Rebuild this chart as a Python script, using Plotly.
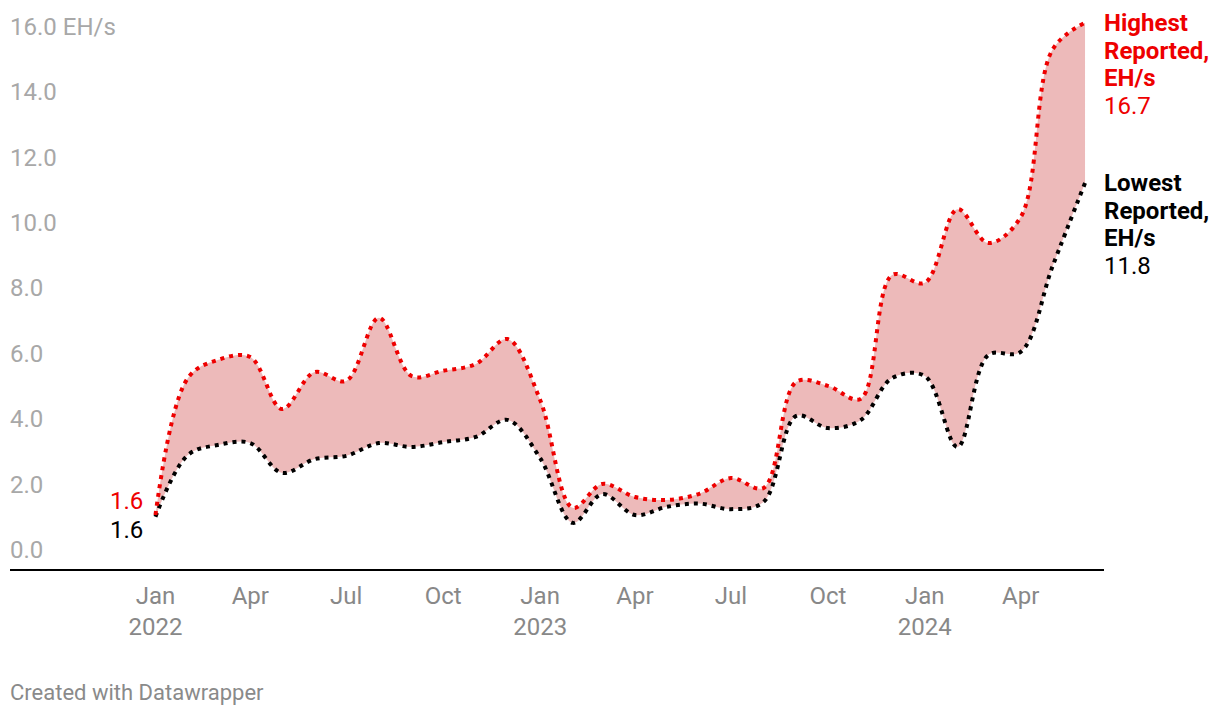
import plotly.graph_objects as go

dates = [
    "2022-01-01", "2022-02-01", "2022-03-01", "2022-04-01", "2022-05-01", "2022-06-01",
    "2022-07-01", "2022-08-01", "2022-09-01", "2022-10-01", "2022-11-01", "2022-12-01",
    "2023-01-01", "2023-02-01", "2023-03-01", "2023-04-01", "2023-05-01", "2023-06-01",
    "2023-07-01", "2023-08-01", "2023-09-01", "2023-10-01", "2023-11-01", "2023-12-01",
    "2024-01-01", "2024-02-01", "2024-03-01", "2024-04-01", "2024-05-01", "2024-06-01",
]
highest = [1.65, 5.85, 6.39, 6.48, 4.89, 6.02, 5.75, 7.68, 5.9, 6.06, 6.27, 7.03,
           5.17, 1.87, 2.6, 2.2, 2.11, 2.3, 2.78, 2.48, 5.72, 5.6, 5.2, 8.99,
           8.75, 11.0, 9.97, 10.76, 15.87, 16.7]
lowest = [1.6, 3.49, 3.79, 3.85, 2.94, 3.36, 3.46, 3.85, 3.73, 3.88, 4.04, 4.56,
          3.39, 1.41, 2.29, 1.65, 1.9, 2.0, 1.83, 2.05, 4.68, 4.31, 4.55, 5.84,
          5.9, 3.73, 6.54, 6.64, 9.24, 11.8]

ytick_vals = [0, 2, 4, 6, 8, 10, 12, 14, 16]
ytick_text = ["0.0", "2.0", "4.0", "6.0", "8.0", "10.0", "12.0", "14.0", "16.0 EH/s"]
xtick_vals = ["2022-01-01", "2022-04-01", "2022-07-01", "2022-10-01", "2023-01-01",
              "2023-04-01", "2023-07-01", "2023-10-01", "2024-01-01", "2024-04-01"]
xtick_text = ["Jan<br>2022", "Apr", "Jul", "Oct", "Jan<br>2023", "Apr", "Jul", "Oct",
              "Jan<br>2024", "Apr"]

RED = "#ee0000"
FONT = "Roboto"
FS = 24

fig = go.Figure()
fig.add_trace(go.Scatter(
    x=dates, y=lowest, mode="lines",
    line=dict(color="#000000", width=4, dash="4px,5px", shape="spline", smoothing=1.0),
    hoverinfo="skip", showlegend=False))
fig.add_trace(go.Scatter(
    x=dates, y=highest, mode="lines", fill="tonexty", fillcolor="#edbaba",
    line=dict(color=RED, width=4, dash="4px,5px", shape="spline", smoothing=1.0),
    hoverinfo="skip", showlegend=False))

annotations = []
for v, t in zip(ytick_vals, ytick_text):
    annotations.append(dict(x=0, xref="paper", xanchor="left", y=v, yref="y",
                            yanchor="middle", yshift=19, xshift=-2, text=t, showarrow=False,
                            font=dict(family=FONT, size=FS, color="#a8a8a8")))

# start labels
annotations.append(dict(x=dates[0], y=highest[0], xanchor="right", yanchor="middle",
                        xshift=-10, yshift=14, text=f"{1.6:.1f}", showarrow=False,
                        font=dict(family=FONT, size=FS, color=RED)))
annotations.append(dict(x=dates[0], y=lowest[0], xanchor="right", yanchor="middle",
                        xshift=-10, yshift=-13, text=f"{1.6:.1f}", showarrow=False,
                        font=dict(family=FONT, size=FS, color="#000000")))

# end labels
for lines, yv, col in [
    (["<b>Highest</b>", "<b>Reported,</b>", "<b>EH/s</b>", f"{highest[-1]:.1f}"], highest[-1], RED),
    (["<b>Lowest</b>", "<b>Reported,</b>", "<b>EH/s</b>", f"{lowest[-1]:.1f}"], lowest[-1], "#000000"),
]:
    for i, t in enumerate(lines):
        annotations.append(dict(x=1, xref="paper", xanchor="left", y=yv, yref="y",
                                yanchor="middle", yshift=-27.7 * i, xshift=-2, text=t,
                                showarrow=False, font=dict(family=FONT, size=FS, color=col)))

annotations.append(dict(x=0, xref="paper", xanchor="left", y=0, yref="paper",
                        yanchor="middle", yshift=-123, xshift=-2, text="Created with Datawrapper",
                        showarrow=False, font=dict(family=FONT, size=22, color="#8a8a8a")))

fig.update_layout(
    width=1212, height=708,
    margin=dict(l=2, r=116, t=5, b=147),
    paper_bgcolor="white", plot_bgcolor="white",
    annotations=annotations,
    xaxis=dict(range=["2021-08-16", "2024-06-19"], tickvals=xtick_vals, ticktext=xtick_text,
               showgrid=False, zeroline=False, showline=True, linecolor="#000000", linewidth=2,
               ticks="", tickfont=dict(family=FONT, size=FS, color="#888888"),
               ticklabelstandoff=4),
    yaxis=dict(range=[0, 17], showgrid=False, zeroline=False, showticklabels=False,
               showline=False),
)
fig.write_html("out.html")
